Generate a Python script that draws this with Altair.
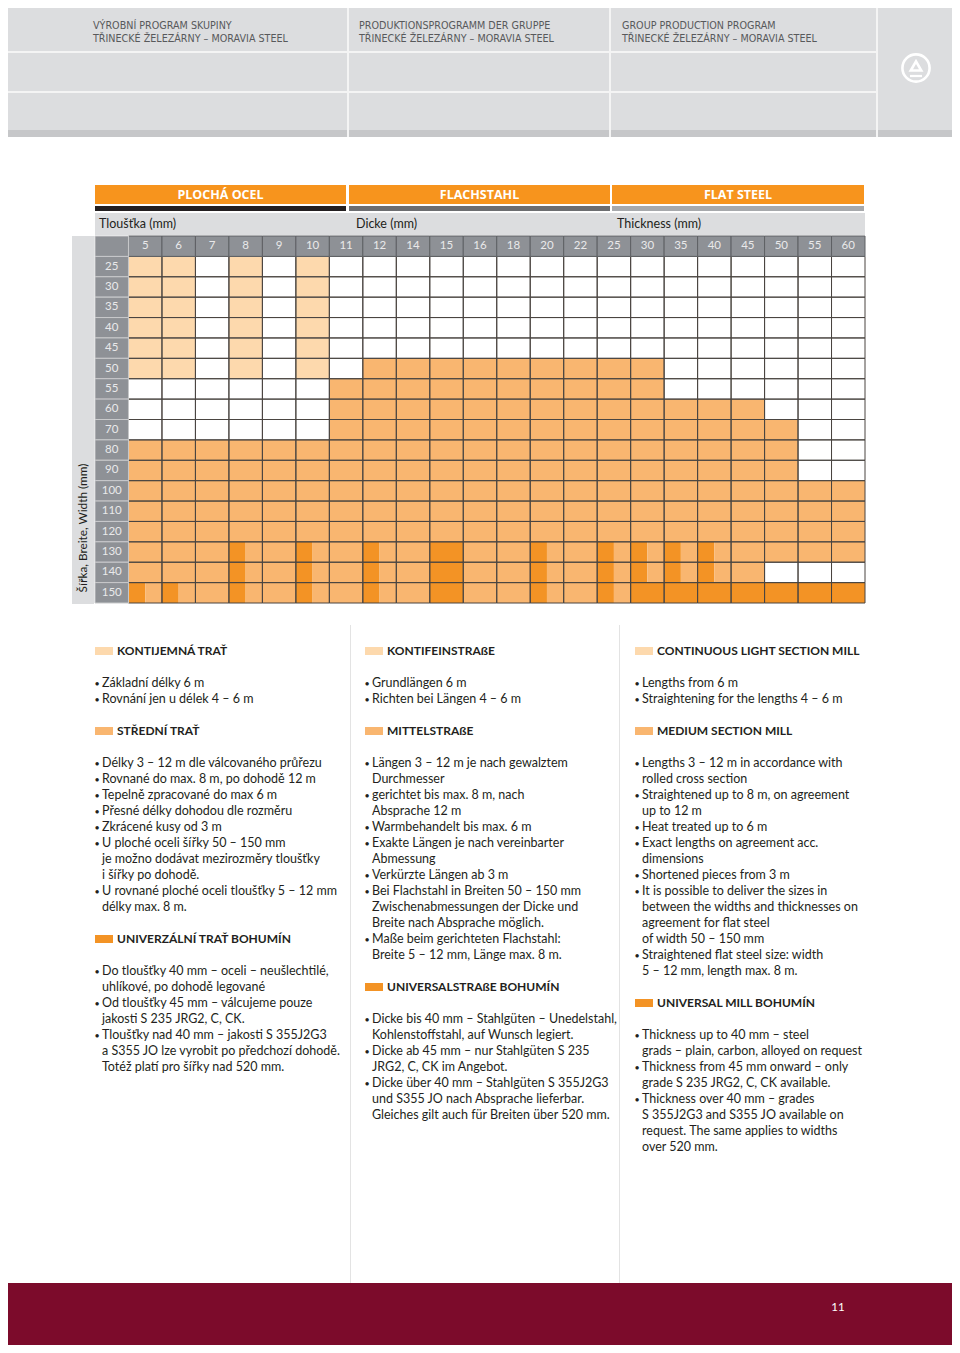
import altair as alt
import pandas as pd

# ---------------------------------------------------------------- data
THICKNESS = [5, 6, 7, 8, 9, 10, 11, 12, 14, 15, 16, 18, 20, 22, 25, 30, 35, 40, 45, 50, 55, 60]
WIDTH = [25, 30, 35, 40, 45, 50, 55, 60, 70, 80, 90, 100, 110, 120, 130, 140, 150]
# one code per thickness column:  L = continuous light section mill,
# M = medium section mill, U = universal mill Bohumín,
# H = universal mill + medium section mill (split cell), . = not produced
AVAILABILITY = [
    "LL.L.L................",  # 25
    "LL.L.L................",  # 30
    "LL.L.L................",  # 35
    "LL.L.L................",  # 40
    "LL.L.L................",  # 45
    "LL.L.L.MMMMMMMMM......",  # 50
    "......MMMMMMMMMM......",  # 55
    "......MMMMMMMMMMMMM...",  # 60
    "......MMMMMMMMMMMMMM..",  # 70
    "MMMMMMMMMMMMMMMMMMMM..",  # 80
    "MMMMMMMMMMMMMMMMMMMM..",  # 90
    "MMMMMMMMMMMMMMMMMMMMMM",  # 100
    "MMMMMMMMMMMMMMMMMMMMMM",  # 110
    "MMMMMMMMMMMMMMMMMMMMMM",  # 120
    "MMMHMHMHMUMMHMHHHHMMMM",  # 130
    "MMMHMHMHMUMMHMHHHHM...",  # 140
    "HHMHMHMHMUMMHMHUUUUUUU",  # 150
]
MILL_KEYS = ["light", "medium", "universal", "none"]
MILL_COLORS = ["#FDD9AD", "#F9B670", "#F39325", "#FFFFFF"]

TITLES = ["PLOCHÁ OCEL", "FLACHSTAHL", "FLAT STEEL"]
THICK_LABELS = ["Tloušťka (mm)", "Dicke (mm)", "Thickness (mm)"]
WIDTH_LABEL = "Šířka, Breite, Width (mm)"
HEADER_LINE1 = ["VÝROBNÍ PROGRAM SKUPINY", "PRODUKTIONSPROGRAMM DER GRUPPE", "GROUP PRODUCTION PROGRAM"]
HEADER_LINE2 = "TŘINECKÉ ŽELEZÁRNY – MORAVIA STEEL"
PAGE_NO = "11"

TEXT_CZ = [
    ("light", "KONTIJEMNÁ TRAŤ", [
        "• Základní délky 6 m",
        "• Rovnání jen u délek 4 – 6 m"]),
    ("medium", "STŘEDNÍ TRAŤ", [
        "• Délky 3 – 12 m dle válcovaného průřezu",
        "• Rovnané do max. 8 m, po dohodě 12 m",
        "• Tepelně zpracované do max 6 m",
        "• Přesné délky dohodou dle rozměru",
        "• Zkrácené kusy od 3 m",
        "• U ploché oceli šířky 50 – 150 mm",
        "je možno dodávat mezirozměry tloušťky",
        "i šířky po dohodě.",
        "• U rovnané ploché oceli tloušťky 5 – 12 mm",
        "délky max. 8 m."]),
    ("universal", "UNIVERZÁLNÍ TRAŤ BOHUMÍN", [
        "• Do tloušťky 40 mm – oceli – neušlechtilé,",
        "uhlíkové, po dohodě legované",
        "• Od tloušťky 45 mm – válcujeme pouze",
        "jakosti S 235 JRG2, C, CK.",
        "• Tloušťky nad 40 mm – jakosti S 355J2G3",
        "a S355 JO lze vyrobit po předchozí dohodě.",
        "Totéž platí pro šířky nad 520 mm."]),
]
TEXT_DE = [
    ("light", "KONTIFEINSTRAßE", [
        "• Grundlängen 6 m",
        "• Richten bei Längen 4 – 6 m"]),
    ("medium", "MITTELSTRAßE", [
        "• Längen 3 – 12 m je nach gewalztem",
        "Durchmesser",
        "• gerichtet bis max. 8 m, nach",
        "Absprache 12 m",
        "• Warmbehandelt bis max. 6 m",
        "• Exakte Längen je nach vereinbarter",
        "Abmessung",
        "• Verkürzte Längen ab 3 m",
        "• Bei Flachstahl in Breiten 50 – 150 mm",
        "Zwischenabmessungen der Dicke und",
        "Breite nach Absprache möglich.",
        "• Maße beim gerichteten Flachstahl:",
        "Breite 5 – 12 mm, Länge max. 8 m."]),
    ("universal", "UNIVERSALSTRAßE BOHUMÍN", [
        "• Dicke bis 40 mm – Stahlgüten – Unedelstahl,",
        "Kohlenstoffstahl, auf Wunsch legiert.",
        "• Dicke ab 45 mm – nur Stahlgüten S 235",
        "JRG2, C, CK im Angebot.",
        "• Dicke über 40 mm – Stahlgüten S 355J2G3",
        "und S355 JO nach Absprache lieferbar.",
        "Gleiches gilt auch für Breiten über 520 mm."]),
]
TEXT_EN = [
    ("light", "CONTINUOUS LIGHT SECTION MILL", [
        "• Lengths from 6 m",
        "• Straightening for the lengths 4 – 6 m"]),
    ("medium", "MEDIUM SECTION MILL", [
        "• Lengths 3 – 12 m in accordance with",
        "rolled cross section",
        "• Straightened up to 8 m, on agreement",
        "up to 12 m",
        "• Heat treated up to 6 m",
        "• Exact lengths on agreement acc.",
        "dimensions",
        "• Shortened pieces from 3 m",
        "• It  is possible to deliver the sizes in",
        "between the widths and thicknesses on",
        "agreement for flat steel",
        "of width 50 – 150 mm",
        "• Straightened flat steel size: width",
        "5 – 12 mm, length max. 8 m."]),
    ("universal", "UNIVERSAL MILL BOHUMÍN", [
        "• Thickness up to 40 mm – steel",
        "grads – plain, carbon, alloyed on request",
        "• Thickness from 45 mm onward – only",
        "grade S 235 JRG2, C, CK available.",
        "• Thickness over 40 mm – grades",
        "S 355J2G3 and S355 JO available on",
        "request. The same applies to widths",
        "over 520 mm."]),
]

# ---------------------------------------------------------------- layout
PLOT_W, PLOT_H = 770, 367            # grid incl. header row and label column
OX, OY = 95, 236                     # page position of the plot origin
FONT = "Lato"
TXT = "#231F20"
GRAY_BG = "#DCDDDF"
HEAD_GRAY = "#8E9196"
color_of = dict(zip(MILL_KEYS, MILL_COLORS))

NC, NR = len(THICKNESS), len(WIDTH)
xs = alt.Scale(domain=[-1, NC], nice=False, zero=False)
ys = alt.Scale(domain=[-1, NR], nice=False, zero=False, reverse=True)

# grid cells
cells = []
outlines = []
for i, (w, code) in enumerate(zip(WIDTH, AVAILABILITY)):
    for j, (t, c) in enumerate(zip(THICKNESS, code)):
        outlines.append({"c0": j, "c1": j + 1, "r0": i, "r1": i + 1})
        if c == "H":
            cells.append({"c0": j, "c1": j + 0.5, "r0": i, "r1": i + 1, "mill": "universal"})
            cells.append({"c0": j + 0.5, "c1": j + 1, "r0": i, "r1": i + 1, "mill": "medium"})
        else:
            m = {"L": "light", "M": "medium", "U": "universal", ".": "none"}[c]
            cells.append({"c0": j, "c1": j + 1, "r0": i, "r1": i + 1, "mill": m})
cells = pd.DataFrame(cells)
outlines = pd.DataFrame(outlines)

def grid_enc(ch):
    return ch.encode(
        x=alt.X("c0:Q", scale=xs, axis=None), x2="c1:Q",
        y=alt.Y("r0:Q", scale=ys, axis=None), y2="r1:Q")

cell_layer = grid_enc(alt.Chart(cells).mark_rect(strokeWidth=0)).encode(
    color=alt.Color("mill:N", scale=alt.Scale(domain=MILL_KEYS, range=MILL_COLORS), legend=None))
outline_layer = grid_enc(alt.Chart(outlines).mark_rect(fillOpacity=0, stroke="#4A4541", strokeWidth=1))

head_cells = pd.DataFrame(
    [{"c0": j, "c1": j + 1, "r0": -1, "r1": 0, "cm": j + 0.5, "rm": -0.5, "lab": str(t)} for j, t in enumerate(THICKNESS)])
head_layer = grid_enc(alt.Chart(head_cells).mark_rect(fill=HEAD_GRAY, stroke="#5E6064", strokeWidth=1))
head_text = alt.Chart(head_cells).mark_text(font=FONT, fontSize=11.5, color="#E9E9EA").encode(
    x=alt.X("cm:Q", scale=xs, axis=None), y=alt.Y("rm:Q", scale=ys, axis=None), text="lab:N")

side_cells = pd.DataFrame(
    [{"c0": -1, "c1": 0, "r0": i, "r1": i + 1, "cm": -0.5, "rm": i + 0.5, "lab": str(w)} for i, w in enumerate(WIDTH)]
    + [{"c0": -1, "c1": 0, "r0": -1, "r1": 0, "cm": -0.5, "rm": -0.5, "lab": ""}])
side_layer = grid_enc(alt.Chart(side_cells).mark_rect(fill=HEAD_GRAY, stroke="#C9CACC", strokeWidth=1))
side_text = alt.Chart(side_cells).mark_text(font=FONT, fontSize=11.5, color="#E9E9EA").encode(
    x=alt.X("cm:Q", scale=xs, axis=None), y=alt.Y("rm:Q", scale=ys, axis=None), text="lab:N")

# page decoration (page pixel coordinates -> plot coordinates)
def R(x0, y0, x1, y1, fill):
    return {"x": x0 - OX, "x2": x1 - OX, "y": y0 - OY, "y2": y1 - OY, "fill": fill}

deco = [
    R(0, 0, 956, 130, GRAY_BG),
    R(0, 130, 956, 137, "#C6C7C9"),
    R(0, 51, 877, 53, "#F4F4F4"), R(0, 91, 877, 93, "#F4F4F4"),
    R(347, 0, 349, 137, "#F4F4F4"), R(609, 0, 611, 137, "#F4F4F4"), R(876, 0, 878, 137, "#F4F4F4"),
    R(95, 185, 346, 204, "#F7941D"), R(349, 185, 610, 204, "#F7941D"), R(612, 185, 864, 204, "#F7941D"),
    R(95, 206, 346, 211, "#231F20"), R(349, 206, 610, 211, "#6D6E71"), R(612, 206, 864, 211, "#A7A9AC"),
    R(95, 213, 865, 235, GRAY_BG),
    R(72, 236, 94, 604, GRAY_BG),
    R(350, 625, 351, 1283, "#E3E3E3"), R(619, 625, 620, 1283, "#E3E3E3"),
    R(0, 1283, 960, 1360, "#7C0B2B"),
]

body, bold, bullets = [], [], []
LINE0, LH = 651, 16
for xb, xt, blocks in [(95, 102, TEXT_CZ), (365, 372, TEXT_DE), (635, 642, TEXT_EN)]:
    k = 0
    for mill, head, lines in blocks:
        y = LINE0 + LH * k
        deco.append(R(xb, y - 4, xb + 18, y + 4, color_of[mill]))
        bold.append({"x": xt + 15 - OX, "y": y - OY, "text": head})
        k += 2
        for ln in lines:
            y = LINE0 + LH * k
            if ln.startswith("• "):
                bullets.append({"x": xb + 2 - OX, "y": y - OY + 0.5, "text": "•"})
                ln = ln[2:]
            body.append({"x": xt - OX, "y": y - OY, "text": ln})
            k += 1
        k += 1

deco_layer = alt.Chart(pd.DataFrame(deco)).mark_rect().encode(
    x=alt.X("x:Q", scale=None, axis=None), x2="x2:Q",
    y=alt.Y("y:Q", scale=None, axis=None), y2="y2:Q",
    color=alt.Color("fill:N", scale=None))

def txt(rows, **kw):
    return alt.Chart(pd.DataFrame(rows)).mark_text(**kw).encode(
        x=alt.X("x:Q", scale=None, axis=None), y=alt.Y("y:Q", scale=None, axis=None), text="text:N")

body_layer = txt(body, font=FONT, fontSize=12.5, color=TXT, align="left", baseline="middle")
bold_layer = txt(bold, font=FONT, fontSize=12, fontWeight="bold", color=TXT, align="left", baseline="middle")
bullet_layer = txt(bullets, font=FONT, fontSize=9, color=TXT, align="center", baseline="middle")

title_layer = txt([{"x": (a + b) / 2 - OX, "y": 195 - OY, "text": t}
                   for t, (a, b) in zip(TITLES, [(95, 346), (349, 610), (612, 864)])],
                  font="Open Sans", fontSize=12.5, fontWeight="bold", color="#FFFFFF", baseline="middle")
thick_layer = txt([{"x": x - OX, "y": 224 - OY, "text": t} for t, x in zip(THICK_LABELS, [99, 356, 617])],
                  font=FONT, fontSize=12.5, color=TXT, align="left", baseline="middle")
width_layer = txt([{"x": 83 - OX, "y": 528 - OY, "text": WIDTH_LABEL}],
                  font=FONT, fontSize=11.8, color=TXT, angle=270, baseline="middle")
hdr = []
for t, x in zip(HEADER_LINE1, [93, 359, 622]):
    hdr.append({"x": x - OX, "y": 26 - OY, "text": t})
    hdr.append({"x": x - OX, "y": 39 - OY, "text": HEADER_LINE2})
hdr_layer = txt(hdr, font="DejaVu Sans", fontSize=9.6, color="#58595B", align="left", baseline="middle")
page_layer = txt([{"x": 838 - OX, "y": 1308 - OY, "text": PAGE_NO}],
                 font=FONT, fontSize=11.5, color="#FFFFFF", baseline="middle")

logo = pd.DataFrame([{"x": 916 - OX, "y": 68 - OY, "shape": "circle", "size": 740},
                     {"x": 916 - OX, "y": 66 - OY, "shape": "triangle-up", "size": 110}])
logo_layer = alt.Chart(logo).mark_point(filled=False, stroke="#FFFFFF", strokeWidth=2.6, opacity=1).encode(
    x=alt.X("x:Q", scale=None, axis=None), y=alt.Y("y:Q", scale=None, axis=None),
    shape=alt.Shape("shape:N", scale=None), size=alt.Size("size:Q", scale=None))
logo_bar = alt.Chart(pd.DataFrame([{"x": 910 - OX, "x2": 922 - OX, "y": 76 - OY}])).mark_rule(
    stroke="#FFFFFF", strokeWidth=2.2).encode(
    x=alt.X("x:Q", scale=None, axis=None), x2="x2:Q", y=alt.Y("y:Q", scale=None, axis=None))

chart = alt.layer(
    deco_layer, cell_layer, outline_layer, head_layer, side_layer, head_text, side_text,
    body_layer, bold_layer, bullet_layer, title_layer, thick_layer, width_layer, hdr_layer,
    page_layer, logo_layer, logo_bar,
).resolve_scale(x="independent", y="independent", color="independent", shape="independent",
                size="independent").properties(
    width=PLOT_W, height=PLOT_H,
    padding={"left": OX - 8, "top": OY - 8, "right": 944 - (OX - 8) - PLOT_W, "bottom": 1337 - (OY - 8) - PLOT_H},
    autosize=alt.AutoSizeParams(type="none"),
    background="#FFFFFF",
).configure_view(stroke=None)

chart.save("out.html", embed_options={"renderer": "svg", "actions": False})
